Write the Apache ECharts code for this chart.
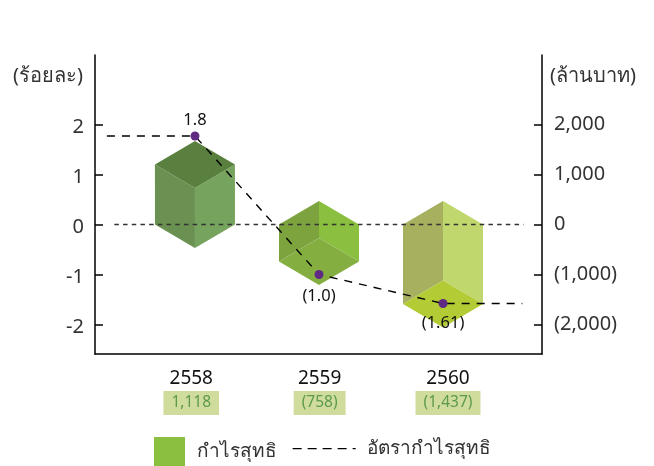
<!DOCTYPE html>
<html>
<head>
<meta charset="utf-8">
<style>html,body{margin:0;padding:0;background:#fff}#c{width:654px;height:466px}</style>
<script src="https://cdn.jsdelivr.net/npm/echarts@6/dist/echarts.min.js"></script>
</head>
<body>
<div id="c"></div>
<script>
var years = [2558, 2559, 2560];
var yearLabels = ['2558', '2559', '2560'];
var yearLabelAt = [2557.97, 2559.005, 2560.04];
var profitLabels = ['1,118', '(758)', '(1,437)'];
var cubeExtent = [1200, -740, -1590];
var rateValues = [1.77, -1.0, -1.58];
var rateLabels = ['1.8', '(1.0)', '(1.61)'];
var rateLineX = [2557.29, 2558, 2559, 2560, 2560.64];
var rateLineY = [1.77, 1.77, -1.0, -1.58, -1.58];
var zeroLineX = [2557.35, 2560.65];
var leftTicks = [-2, -1, 0, 1, 2];
var rightTicks = [-2000, -1000, 0, 1000, 2000];
var cubeColors = [
  { a: '#6b9152', b: '#76a35d', c: '#5a8040' },
  { a: '#7da33f', b: '#8abf40', c: '#84ae40' },
  { a: '#a6b05e', b: '#c0d76e', c: '#b3cb35' }
];
var FONT = '"Noto Sans", "Open Sans", sans-serif';
var NAME_BAR = 'กำไรสุทธิ';
var NAME_LINE = 'อัตรากำไรสุทธิ';

function poly(pts, color) {
  return { type: 'polygon', shape: { points: pts }, style: { fill: color } };
}
function renderCube(params, api) {
  var i = params.dataIndex;
  var x = api.value(0), v = api.value(1);
  var p0 = api.coord([x, 0]), p1 = api.coord([x, v]);
  var hw = 40, d = 23.5, cx = p0[0], col = cubeColors[i], ch;
  var L = cx - hw, R = cx + hw;
  if (v >= 0) {
    var t = p1[1], b = p0[1];
    ch = [
      poly([[L, t], [cx, t + d], [cx, b + d], [L, b]], col.a),
      poly([[cx, t + d], [R, t], [R, b], [cx, b + d]], col.b),
      poly([[cx, t - d], [R, t], [cx, t + d], [L, t]], col.c)
    ];
  } else {
    var t2 = p0[1], b2 = p1[1];
    ch = [
      poly([[L, t2], [cx, t2 - d], [cx, b2 - d], [L, b2]], col.a),
      poly([[cx, t2 - d], [R, t2], [R, b2], [cx, b2 - d]], col.b),
      poly([[cx, b2 - d], [R, b2], [cx, b2 + d], [L, b2]], col.c)
    ];
  }
  return { type: 'group', children: ch };
}

var chart = echarts.init(document.getElementById('c'), null, { renderer: 'canvas' });
chart.setOption({
  animation: false,
  backgroundColor: '#fff',
  textStyle: { fontFamily: FONT },
  grid: { left: 95, right: 112, top: 55, bottom: 112 },
  legend: [
    { data: [{ name: NAME_BAR, icon: 'rect' }], left: 154, top: 437, padding: 0, itemWidth: 31, itemHeight: 29, itemGap: 12,
      selectedMode: false, textStyle: { fontSize: 19, color: '#333', fontFamily: FONT, padding: [3, 0, 0, 7] } },
    { data: [NAME_LINE], left: 292, top: 437, padding: 0, itemWidth: 63, itemHeight: 29, itemGap: 11,
      selectedMode: false,
      itemStyle: { color: 'transparent', borderColor: 'transparent', borderWidth: 0 },
      lineStyle: { color: '#000', width: 1.3, type: [9, 6] },
      textStyle: { fontSize: 19, color: '#333', fontFamily: FONT, padding: [3, 0, 0, 6] } }
  ],
  xAxis: {
    type: 'value', min: 2557.194, max: 2560.798,
    axisLine: { onZero: false, lineStyle: { color: '#000', width: 1.5 } },
    axisTick: { show: false }, splitLine: { show: false },
    axisLabel: {
      customValues: yearLabelAt, margin: 7,
      formatter: function (v) {
        var i = yearLabelAt.indexOf(v);
        return '{a|' + yearLabels[i] + '}\n{b|' + profitLabels[i] + '}';
      },
      rich: {
        a: { fontSize: 19, fontFamily: FONT, color: '#111', lineHeight: 35, align: 'center' },
        b: { fontSize: 15.5, fontFamily: FONT, color: '#5c9a4c', backgroundColor: '#d0dc9c',
             padding: [4, 8, 4, 8], lineHeight: 14, align: 'center' }
      }
    }
  },
  yAxis: [
    { type: 'value', min: -2.59, max: 3.39,
      axisLine: { show: true, onZero: false, lineStyle: { color: '#000', width: 1.5 } },
      axisTick: { show: true, inside: true, length: 8, customValues: leftTicks, lineStyle: { color: '#000', width: 1.5 } },
      splitLine: { show: false },
      axisLabel: { customValues: leftTicks, margin: 11,
        formatter: function (v) { return '{n|' + v + '}'; },
        rich: { n: { fontSize: 20, color: '#333', fontFamily: FONT, padding: [5, 0, 0, 0] } } } },
    { type: 'value', min: -2590, max: 3390, position: 'right',
      axisLine: { show: true, onZero: false, lineStyle: { color: '#000', width: 1.5 } },
      axisTick: { show: true, inside: true, length: 8, customValues: rightTicks, lineStyle: { color: '#000', width: 1.5 } },
      splitLine: { show: false },
      axisLabel: { customValues: rightTicks, margin: 12, fontSize: 20, color: '#333', fontFamily: FONT,
        formatter: function (v) {
          var s = Math.abs(v).toLocaleString('en-US');
          return v < 0 ? '(' + s + ')' : s;
        } } }
  ],
  graphic: [
    { type: 'text', left: 13, top: 66, style: { text: '(ร้อยละ)', fontSize: 20, fill: '#333', fontFamily: FONT } },
    { type: 'text', left: 550, top: 66, style: { text: '(ล้านบาท)', fontSize: 20, fill: '#333', fontFamily: FONT } }
  ],
  series: [
    { name: NAME_BAR, type: 'custom', yAxisIndex: 1, z: 2, clip: false,
      itemStyle: { color: '#8abf40' },
      renderItem: renderCube,
      data: years.map(function (y, i) { return [y, cubeExtent[i]]; }) },
    { name: NAME_LINE, type: 'line', z: 4, symbol: 'none', silent: true,
      itemStyle: { color: '#000' },
      lineStyle: { color: '#000', width: 1.4, type: [8, 7] },
      data: rateLineX.map(function (x, i) { return [x, rateLineY[i]]; }) },
    { name: 'zero', type: 'line', z: 3, symbol: 'none', silent: true,
      lineStyle: { color: '#333', width: 1.5, type: [4.5, 4.2] },
      data: zeroLineX.map(function (x) { return [x, 0]; }) },
    { name: 'rate', type: 'scatter', z: 5, symbolSize: 9, silent: true,
      itemStyle: { color: '#5f2a84', opacity: 1 },
      data: years.map(function (y, i) {
        return { value: [y, rateValues[i]],
          label: { show: true, position: i === 0 ? 'top' : 'bottom', distance: i === 0 ? 3 : (i === 1 ? 9 : 7),
            formatter: rateLabels[i], fontSize: 16.5, color: '#111', fontFamily: FONT } };
      }) }
  ]
});
</script>
</body>
</html>
